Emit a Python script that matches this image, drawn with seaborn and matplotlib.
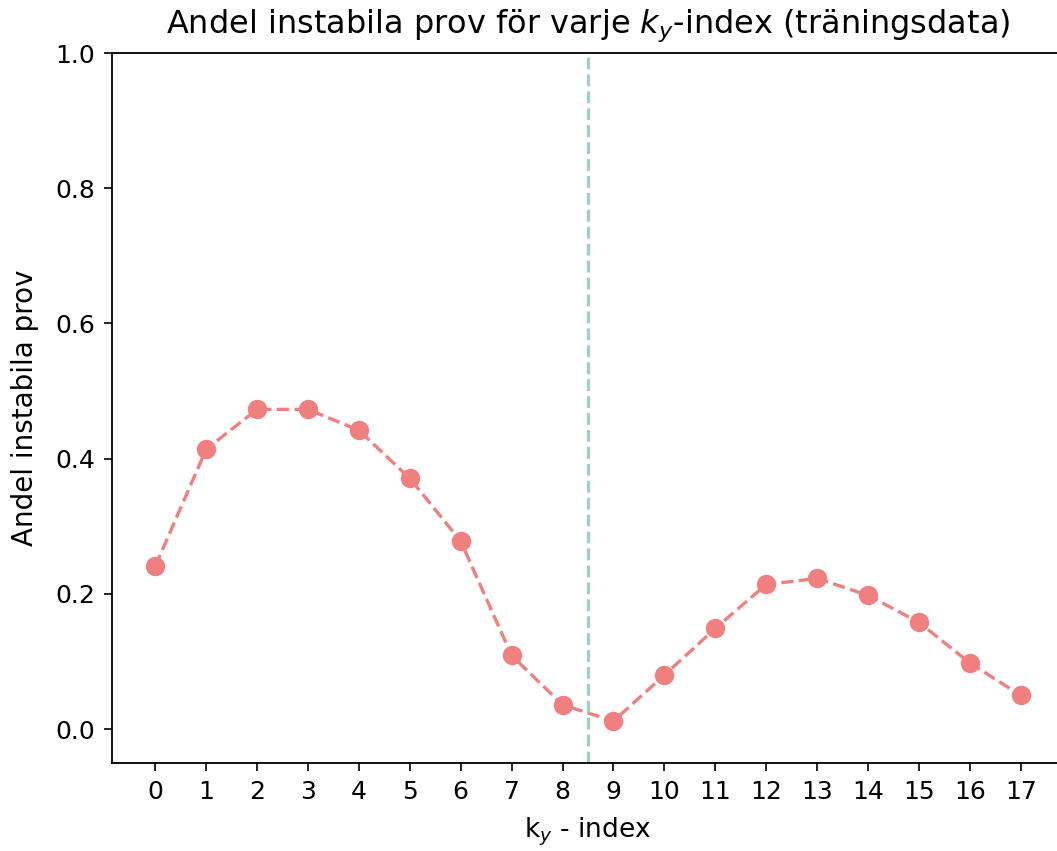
import matplotlib
matplotlib.use("Agg")
import matplotlib.pyplot as plt
import seaborn as sns
import pandas as pd

ky_index = list(range(18))
andel = [0.241, 0.414, 0.473, 0.473, 0.442, 0.371, 0.278, 0.109, 0.036,
         0.012, 0.080, 0.149, 0.214, 0.223, 0.198, 0.158, 0.098, 0.050]
split_pos = 8.5

df = pd.DataFrame({"ky": ky_index, "andel": andel})

sns.set_style("ticks")
plt.rcParams['font.family'] = ['DejaVu Sans']
plt.rcParams['font.size'] = 18

fig = plt.figure(figsize=(10.57, 8.51), dpi=100)
ax = fig.add_axes([112/1057, 1 - 763/851, (1064-112)/1057, (763-53)/851])

sns.lineplot(data=df, x="ky", y="andel", ax=ax, color="lightcoral",
             linestyle="--", linewidth=2.4, marker="o", markersize=14,
             markeredgewidth=0)
ax.axvline(split_pos, color="#9fcdcb", linestyle="--", linewidth=2.3)

ax.set_ylim(-0.05, 1.0)
ax.set_xlim(-0.85, 17.85)
ax.set_xticks(ky_index)
ax.set_yticks([0.0, 0.2, 0.4, 0.6, 0.8, 1.0])
ax.tick_params(labelsize=18, length=6, width=1.2, colors="black", pad=6)
for s in ax.spines.values():
    s.set_linewidth(1.3)
    s.set_color("black")
ax.set_xlabel("k$_y$ - index", fontsize=19, color="black", labelpad=9)
ax.set_ylabel("Andel instabila prov", fontsize=20, color="black", labelpad=12)
ax.set_title("Andel instabila prov för varje $k_y$-index (träningsdata)",
             fontsize=23, pad=15, color="black")

fig.savefig("out.png", dpi=100)
